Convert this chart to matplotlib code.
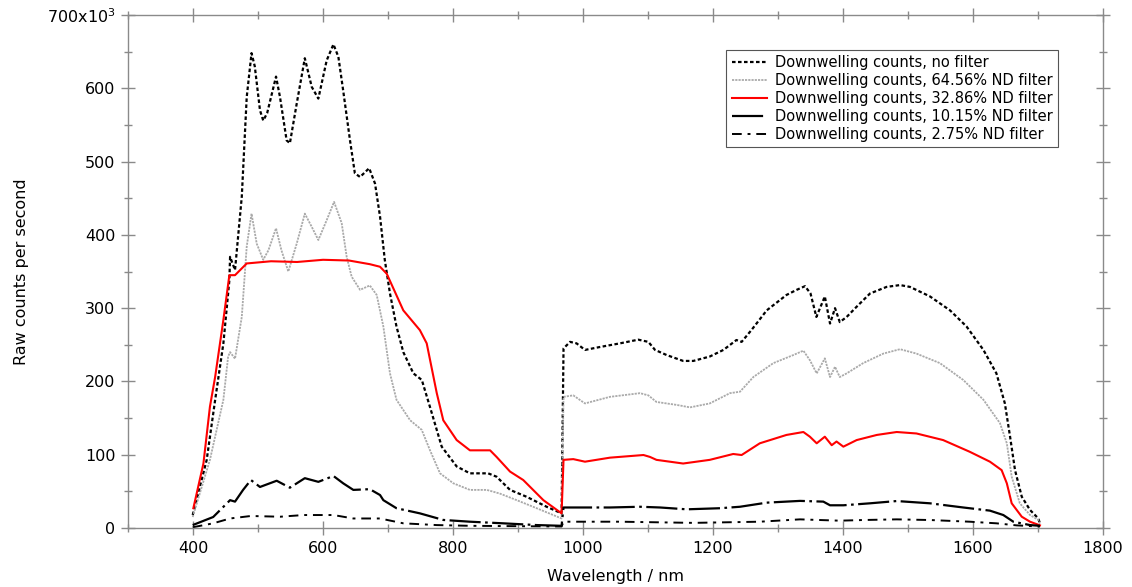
import numpy as np
import matplotlib
matplotlib.use("Agg")
import matplotlib.pyplot as plt
from matplotlib.ticker import MultipleLocator, FuncFormatter

# wavelength (nm) and raw counts (x10^3 per second)
wl_nf = [399.5, 421, 434, 446.7, 455.9, 457, 464.6, 475, 482.6, 490, 495, 503, 508, 514,
         527.7, 533.8, 544, 549, 559.5, 572, 582.6, 592.8, 605.6, 616, 623.6, 631, 641.5,
         649, 657, 671, 680, 687.7, 695, 703, 713, 723.5, 739, 752, 764.6, 782.6, 805.6,
         826, 854, 867, 887.7, 913, 944, 967,
         970, 980, 990, 1003, 1026, 1057, 1085, 1100.5, 1110.8, 1128.7, 1154, 1169.7, 1195,
         1216, 1236, 1244, 1259, 1282.6, 1313, 1328.7, 1341.5, 1350, 1359, 1372, 1380,
         1387.7, 1395, 1405.6, 1421, 1441.5, 1467, 1487.7, 1503, 1533.8, 1564.6, 1590, 1616,
         1636, 1649, 1657, 1664.6, 1675, 1687.7, 1700.5, 1703]
no_filter = [17.7, 92.8, 174.6, 252, 338, 370, 352, 452, 588, 648, 630, 570, 556, 566,
             616, 588, 529, 525, 579, 641, 602, 586, 638, 660, 643, 597, 529,
             484, 479, 491, 470, 425, 366, 320, 275, 240, 211, 202, 165, 111, 84,
             74.6, 74.6, 70, 52, 42.7, 29, 20,
             245, 254, 252, 243, 247, 252, 257, 254, 243, 236, 228, 228, 234,
             243, 256.5, 254, 270, 297, 318, 325, 330, 320, 288, 316, 279,
             300, 281, 288, 302, 320, 329, 331.5, 329, 316, 297, 275, 243,
             211, 170, 124.6, 79, 42.7, 24.6, 13, 6]

wl_64 = [399.5, 426, 446.7, 454, 457, 464.6, 475, 482.6, 490, 498, 508, 516, 527.7, 536,
         546.6, 559.5, 572, 582.6, 592.8, 605.6, 617, 628.7, 636.4, 644, 657, 672, 682.6,
         692.8, 703, 713, 734, 751.8, 764.6, 780, 800.5, 826, 852, 872, 898, 928.7, 967,
         970, 985, 1003, 1041.5, 1087.7, 1100.5, 1113, 1144, 1164.6, 1195, 1226, 1241.5,
         1262, 1292.8, 1323.5, 1339, 1349, 1359.5, 1372, 1380, 1387.7, 1395, 1405.6, 1431,
         1462, 1487.7, 1513, 1549, 1585, 1616, 1641.5, 1652, 1659.5, 1672, 1687.7, 1700.5,
         1703]
nd_64 = [15, 93, 175, 234, 240, 231, 288, 384, 429, 388, 366, 379, 409, 379,
         350, 388, 429, 411, 393, 420, 445, 416, 370, 343, 325, 331, 318,
         275, 211, 175, 147, 134, 106, 74.6, 61, 52, 52, 47, 38, 27, 13,
         179, 181, 170, 179, 184, 181, 172, 168, 164.6, 170, 184, 186,
         206, 225, 236, 242, 229, 211, 231.5, 206, 220, 206, 211, 225,
         238, 244, 238, 225, 202, 175, 143, 115.6, 70, 33.7, 17.7, 11,
         6]

wl_32 = [400.5, 416, 426, 434, 446.7, 455.9, 464.6, 482.6, 520, 560, 600, 640, 672, 687.7,
         698, 723.5, 749, 759.5, 775, 785, 805.6, 826, 857, 867, 887.7, 908, 939, 967,
         970, 985, 1003, 1041.5, 1093, 1103, 1113, 1154, 1195, 1231, 1244, 1272, 1313,
         1339, 1349, 1359.5, 1372, 1382.6, 1390, 1400.5, 1421, 1452, 1482.6, 1513, 1554,
         1595, 1626, 1644, 1652, 1659.5, 1675, 1687.7, 1703]
nd_32 = [27, 88, 165.5, 206, 284, 345, 345, 361, 364, 363, 366, 365, 360, 356.5,
         347, 297, 270, 252, 184, 147, 120, 106, 106, 97, 77, 65.5, 38, 20,
         93, 94, 90.5, 96, 99.6, 97, 93, 88, 93, 101, 99.6, 115.6, 127,
         131, 124.6, 115.6, 124.6, 113, 118, 111, 120, 127, 131, 129, 120,
         104, 90.5, 79, 61, 33.7, 15.4, 8.6, 3.6]

wl_10 = [399.5, 431, 457, 464.6, 477, 489, 503, 528.7, 549, 572, 592.8, 616, 631, 646.6,
         672, 687.7, 692.8, 713, 749, 785, 826, 877, 928.7, 967,
         970, 995.4, 1041.5, 1087.7, 1118.5, 1159.5, 1210.8, 1241.5, 1282.6, 1333.8, 1369.7,
         1380, 1400.5, 1441.5, 1482.6, 1533.8, 1585, 1626, 1646.6, 1662, 1687.7, 1703]
nd_10 = [4, 15, 38, 36, 52, 65.5, 56, 64.5, 55, 68, 63, 71, 61, 52,
         53, 45, 38, 27, 20, 11, 8.6, 6.4, 4, 3,
         28, 28, 28, 29, 28, 25.5, 27, 29, 34.6, 37, 36,
         31, 31, 33.7, 36.8, 33.7, 28, 23.7, 17.7, 8.6, 4, 3]

wl_2 = [399.5, 431, 457, 489, 534, 570, 616, 646.6, 687.7, 723.5, 775, 826, 967,
        970, 1057, 1169.7, 1272, 1333.8, 1395, 1431, 1482.6, 1533.8, 1595, 1636, 1667, 1703]
nd_2 = [1, 6.4, 13, 16.4, 15.4, 17.7, 17.7, 13, 13, 6.4, 4, 3, 2,
        8.6, 8.6, 7, 8.6, 11.8, 10, 10.9, 11.8, 10.9, 8.6, 6.4, 3.6, 2]

labels = ["Downwelling counts, no filter",
          "Downwelling counts, 64.56% ND filter",
          "Downwelling counts, 32.86% ND filter",
          "Downwelling counts, 10.15% ND filter",
          "Downwelling counts, 2.75% ND filter"]

fig = plt.figure(figsize=(11.32, 5.87), dpi=100)
ax = fig.add_axes([0.1131, 0.1005, 0.8613, 0.8739])

ax.plot(wl_nf, np.array(no_filter) * 1e3, color="black", lw=1.6, dashes=(1.6, 1.1), label=labels[0])
ax.plot(wl_64, np.array(nd_64) * 1e3, color="#aaaaaa", lw=1.3, dashes=(1.2, 0.6), label=labels[1])
ax.plot(wl_32, np.array(nd_32) * 1e3, color="#ff0000", lw=1.5, label=labels[2])
ax.plot(wl_10, np.array(nd_10) * 1e3, color="black", lw=1.6, dashes=(14, 2, 1.2, 2), label=labels[3])
ax.plot(wl_2, np.array(nd_2) * 1e3, color="black", lw=1.4, dashes=(5, 3, 1.5, 3), label=labels[4])

ax.set_xlim(300, 1800)
ax.set_ylim(0, 700e3)

ax.xaxis.set_major_locator(MultipleLocator(200))
ax.xaxis.set_minor_locator(MultipleLocator(100))
ax.yaxis.set_major_locator(MultipleLocator(100e3))
ax.yaxis.set_minor_locator(MultipleLocator(50e3))


def ylab(v, pos):
    k = int(round(v / 1e3))
    if k == 700:
        return "700x10$^{3}$"
    return str(k)


ax.yaxis.set_major_formatter(FuncFormatter(ylab))

edge = "#8a8a8a"
for s in ax.spines.values():
    s.set_color(edge)
    s.set_linewidth(1.0)
ax.tick_params(which="both", direction="inout", color=edge, labelcolor="black",
               top=True, right=True, labelsize=11.5, width=1.0)
ax.tick_params(which="major", length=10, pad=4)
ax.tick_params(which="minor", length=6)

ax.set_xlabel("Wavelength / nm", fontsize=11.5, labelpad=10)
ax.set_ylabel("Raw counts per second", fontsize=11.5, labelpad=13)

leg = ax.legend(loc="upper right", bbox_to_anchor=(0.954, 0.932), fontsize=10.5,
                frameon=True, fancybox=False, edgecolor="#555555", framealpha=1,
                handlelength=2.4, handletextpad=0.6, labelspacing=0.2, borderpad=0.35,
                borderaxespad=0)
leg.get_frame().set_linewidth(0.8)

fig.savefig("out.png", dpi=100)
